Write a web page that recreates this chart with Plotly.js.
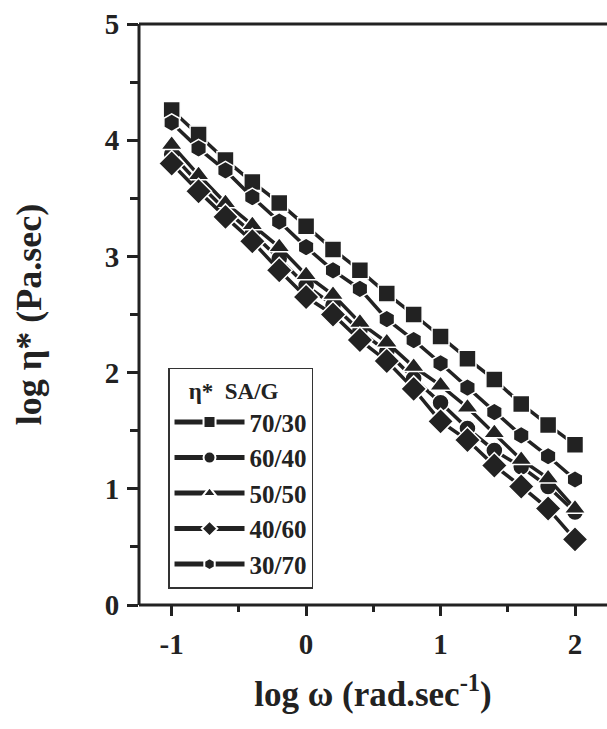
<!DOCTYPE html>
<html>
<head>
<meta charset="utf-8">
<script src="https://cdn.plot.ly/plotly-3.0.1.min.js"></script>
<style>html,body{margin:0;padding:0;background:#fff;}#chart{width:607px;height:729px;}</style>
</head>
<body>
<div id="chart"></div>
<script>
// log ω values (rad/s)
const logOmega = [-1.0, -0.8, -0.6, -0.4, -0.2, 0.0, 0.2, 0.4, 0.6, 0.8, 1.0, 1.2, 1.4, 1.6, 1.8, 2.0];
// log η* values for each SA/G ratio
const eta_70_30 = [4.26, 4.05, 3.83, 3.64, 3.46, 3.26, 3.06, 2.88, 2.68, 2.50, 2.31, 2.12, 1.94, 1.73, 1.55, 1.38];
const eta_60_40 = [3.88, 3.63, 3.40, 3.20, 2.98, 2.75, 2.58, 2.36, 2.18, 1.95, 1.74, 1.52, 1.33, 1.19, 1.02, 0.80];
const eta_50_50 = [3.96, 3.70, 3.46, 3.27, 3.08, 2.84, 2.67, 2.43, 2.26, 2.05, 1.89, 1.70, 1.48, 1.25, 1.09, 0.83];
const eta_40_60 = [3.80, 3.56, 3.34, 3.13, 2.88, 2.65, 2.50, 2.28, 2.10, 1.86, 1.58, 1.42, 1.20, 1.02, 0.83, 0.565];
const eta_30_70 = [4.15, 3.93, 3.74, 3.51, 3.30, 3.08, 2.88, 2.72, 2.46, 2.28, 2.08, 1.87, 1.66, 1.46, 1.28, 1.08];

const seriesNames = ['70/30', '60/40', '50/50', '40/60', '30/70'];
const seriesData = [eta_70_30, eta_60_40, eta_50_50, eta_40_60, eta_30_70];
const symbols = ['square', 'circle', 'triangle-up', 'diamond', 'hexagon'];
const sizes = [17, 17, 19, 20, 18];

const ink = '#222222';
const fontFam = '"Liberation Serif", "Times New Roman", serif';

const traces = seriesNames.map((name, i) => ({
  type: 'scatter',
  mode: 'lines+markers',
  name: name,
  x: logOmega,
  y: seriesData[i],
  line: {color: ink, width: 3.5},
  marker: {symbol: symbols[i], size: sizes[i], color: ink, line: {color: '#ffffff', width: 1.5}}
}));

const layout = {
  width: 607,
  height: 729,
  margin: {l: 139, r: 0, t: 24, b: 124},
  paper_bgcolor: '#ffffff',
  plot_bgcolor: '#ffffff',
  font: {family: fontFam, color: ink, size: 28, weight: 'bold'},
  showlegend: true,
  legend: {
    x: 0.062, y: 0.408, xanchor: 'left', yanchor: 'top',
    bgcolor: '#ffffff',
    bordercolor: '#333333', borderwidth: 1.5,
    font: {family: fontFam, size: 25, color: ink, weight: 'bold'},
    title: {text: '   η*  SA/G', font: {family: fontFam, size: 23, color: ink, weight: 'bold'}},
    itemsizing: 'constant',
    itemwidth: 70,
    tracegroupgap: 0
  },
  xaxis: {
    range: [-1.243, 2.238],
    tickmode: 'array',
    tickvals: [-1, 0, 1, 2],
    ticktext: ['-1', '0', '1', '2'],
    ticks: 'outside', ticklen: 10, tickwidth: 3, tickcolor: ink,
    minor: {tickvals: [-0.5, 0.5, 1.5], ticks: 'outside', ticklen: 6, tickwidth: 3, tickcolor: ink},
    showline: false,
    showgrid: false, zeroline: false,
    tickfont: {family: fontFam, size: 29, color: ink, weight: 'bold'},
    ticklabelstandoff: 3,
    title: {text: 'log ω (rad.sec<sup>-1</sup>)', font: {family: fontFam, size: 35, color: ink, weight: 'bold'}, standoff: 22}
  },
  yaxis: {
    range: [0, 5],
    tickmode: 'array',
    tickvals: [0, 1, 2, 3, 4, 5],
    ticktext: ['0', '1', '2', '3', '4', '5'],
    ticks: 'outside', ticklen: 11, tickwidth: 3, tickcolor: ink,
    minor: {tickvals: [0.5, 1.5, 2.5, 3.5, 4.5], ticks: 'outside', ticklen: 8, tickwidth: 3, tickcolor: ink},
    showline: false,
    showgrid: false, zeroline: false,
    tickfont: {family: fontFam, size: 29, color: ink, weight: 'bold'},
    ticklabelstandoff: 2,
    title: {text: 'log η* (Pa.sec)', font: {family: fontFam, size: 36, color: ink, weight: 'bold'}, standoff: 52}
  },
  shapes: [
    {type: 'line', xref: 'paper', yref: 'paper', x0: 0, x1: 1, y0: 1, y1: 1, line: {color: ink, width: 3}},
    {type: 'line', xref: 'paper', yref: 'paper', x0: 0, x1: 0, y0: 0, y1: 1, line: {color: ink, width: 3}},
    {type: 'line', xref: 'paper', yref: 'paper', x0: 0, x1: 1, y0: 0, y1: 0, line: {color: ink, width: 3}}
  ]
};

Plotly.newPlot('chart', traces, layout, {displayModeBar: false, staticPlot: true});
</script>
</body>
</html>
